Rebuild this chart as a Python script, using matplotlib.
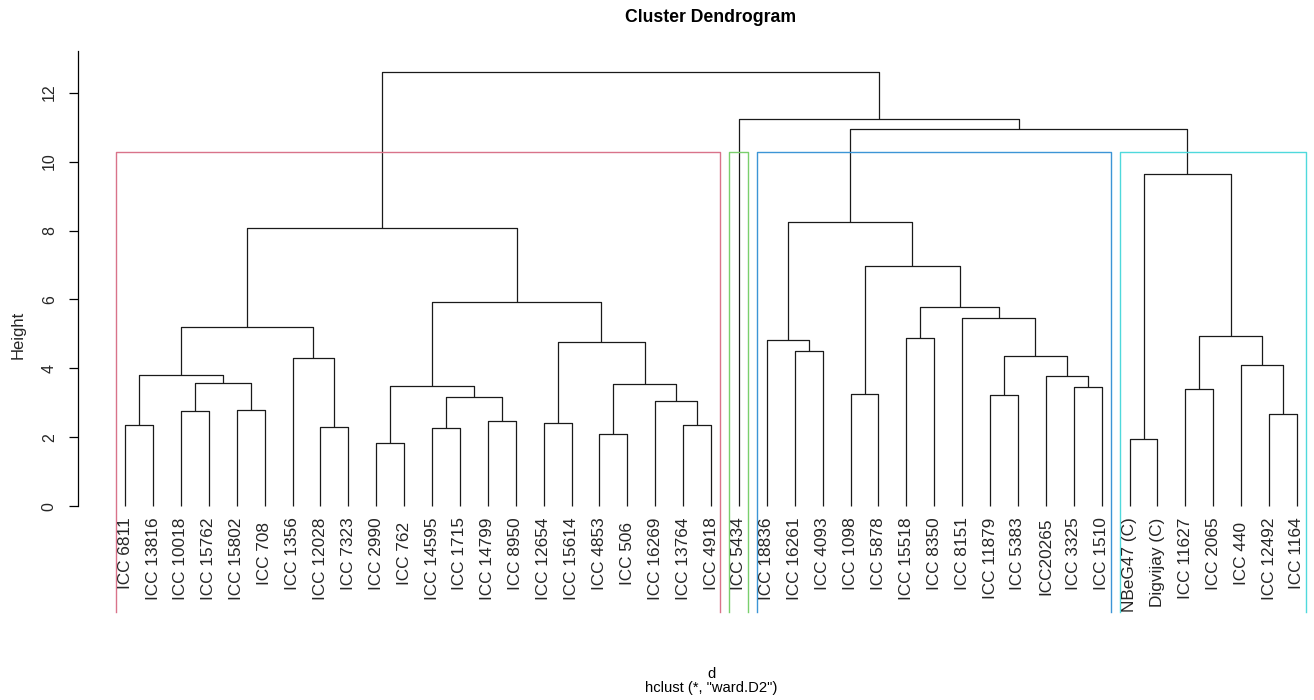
import numpy as np
import matplotlib.pyplot as plt
from matplotlib.transforms import offset_copy

plt.rcParams['font.family'] = ['Liberation Sans', 'DejaVu Sans']

# leaf labels in display order
labels = ['ICC 6811', 'ICC 13816', 'ICC 10018', 'ICC 15762', 'ICC 15802', 'ICC 708 ',
          'ICC 1356', 'ICC 12028', 'ICC 7323', 'ICC 2990', 'ICC 762 ', 'ICC 14595',
          'ICC 1715', 'ICC 14799', 'ICC 8950', 'ICC 12654', 'ICC 15614', 'ICC 4853',
          'ICC 506 ', 'ICC 16269', 'ICC 13764', 'ICC 4918', 'ICC 5434', 'ICC 18836',
          'ICC 16261', 'ICC 4093', 'ICC 1098', 'ICC 5878', 'ICC 15518', 'ICC 8350',
          'ICC 8151', 'ICC 11879', 'ICC 5383', 'ICC20265', 'ICC 3325', 'ICC 1510',
          'NBeG47 (C)', 'Digvijay (C)', 'ICC 11627', 'ICC 2065', 'ICC 440 ',
          'ICC 12492', 'ICC 1164']

# merge steps like R hclust: negative = leaf number, positive = earlier step
merge_left = [-10, -37, -18, -12, -8, -1, -21, -16, -14, -42, -3, -5, -20, 4,
              -32, -27, -39, -35, 1, 3, 11, -34, 6, -41, -7, 15, -25, 8, -24,
              -29, 17, 23, -31, 30, 19, 16, 32, 29, 2, 38, -23, 37]
merge_right = [-11, -38, -19, -13, -9, -2, -22, -17, -15, -43, -4, -6, 7, 9,
               -33, -28, -40, -36, 14, 13, 12, 18, 21, 10, 5, 22, -26, 20, 27,
               -30, 24, 25, 26, 33, 28, 34, 35, 36, 31, 39, 40, 41]
heights = [1.84, 1.94, 2.11, 2.26, 2.31, 2.36, 2.37, 2.41, 2.47, 2.69, 2.76,
           2.78, 3.05, 3.18, 3.24, 3.26, 3.39, 3.45, 3.48, 3.55, 3.58, 3.79,
           3.82, 4.10, 4.29, 4.37, 4.50, 4.77, 4.82, 4.87, 4.95, 5.19, 5.45,
           5.79, 5.93, 6.96, 8.08, 8.24, 9.64, 10.94, 11.24, 12.61]

k = 4
rect_colors = ['#D9738A', '#7ACF6C', '#3C95D6', '#4FD9DC']

W, H = 1314, 700
fig = plt.figure(figsize=(W / 100, H / 100), dpi=100)

# pixel geometry of the plot region
x_px0, unit_x = 78.3, 27.9
y0_px, unit_y = 506.3, 34.47
bot_px, top_px = 612, 40
xlim = (-0.68, -0.68 + (W - x_px0) / unit_x)
ylim = ((y0_px - bot_px) / unit_y, (y0_px - top_px) / unit_y)
ax = fig.add_axes([x_px0 / W, 1 - bot_px / H, 1 - x_px0 / W, (bot_px - top_px) / H])
ax.set_xlim(*xlim)
ax.set_ylim(*ylim)

# node positions
node_x = {}
node_h = {}
leaves_of = {}


def pos(c):
    if c < 0:
        return -c, 0.0
    return node_x[c], node_h[c]


def members(c):
    return [-c] if c < 0 else leaves_of[c]


for i, (a, b, h) in enumerate(zip(merge_left, merge_right, heights), start=1):
    xa, ha = pos(a)
    xb, hb = pos(b)
    ax.plot([xa, xa, xb, xb], [ha, h, h, hb], color='#1a1a1a', lw=0.9,
            solid_capstyle='butt')
    node_x[i] = (xa + xb) / 2
    node_h[i] = h
    leaves_of[i] = members(a) + members(b)

# leaf labels
trans = offset_copy(ax.transData, fig=fig, x=0, y=-11, units='dots')
for i, lab in enumerate(labels, start=1):
    ax.text(i, 0, lab, rotation=90, ha='center', va='top', fontsize=12.4,
            color='#262626', transform=trans)

# rect.hclust style boxes for k clusters
nm = len(heights)
top_steps = list(range(nm - k + 2, nm + 1))
clusters = []
for s in top_steps:
    for c in (merge_left[s - 1], merge_right[s - 1]):
        if c < 0 or c not in top_steps:
            clusters.append(members(c))
clusters.sort(key=min)
hs = sorted(heights, reverse=True)
rect_top = (hs[k - 2] + hs[k - 1]) / 2
for col, mem in zip(rect_colors, clusters):
    x1 = min(mem) - 1 + 0.66
    x2 = max(mem) + 0.33
    ax.plot([x1, x1, x2, x2], [ylim[0], rect_top, rect_top, ylim[0]],
            color=col, lw=1.0, clip_on=False)

# axes styling like base R
for sp in ['top', 'right', 'bottom']:
    ax.spines[sp].set_visible(False)
ax.spines['left'].set_bounds(0, 13.2)
ax.spines['left'].set_linewidth(0.9)
ax.set_xticks([])
ax.set_yticks(np.arange(0, 13, 2))
ax.tick_params(axis='y', length=6.5, width=0.9, pad=9, labelsize=11.5,
               labelcolor='#262626')
for t in ax.get_yticklabels():
    t.set_rotation(90)
    t.set_va('center')

fig.text(18 / W, 1 - 335 / H, 'Height', rotation=90, ha='center', va='center',
         fontsize=12, color='#262626')
fig.text(711 / W, 1 - 17 / H, 'Cluster Dendrogram', ha='center', va='center',
         fontsize=12.7, fontweight='bold')
fig.text(711 / W, 1 - 678.5 / H, 'd', ha='center', va='baseline', fontsize=10.6)
fig.text(711 / W, 1 - 692 / H, 'hclust (*, "ward.D2")', ha='center',
         va='baseline', fontsize=10.6)

fig.savefig('out.png', dpi=100)
